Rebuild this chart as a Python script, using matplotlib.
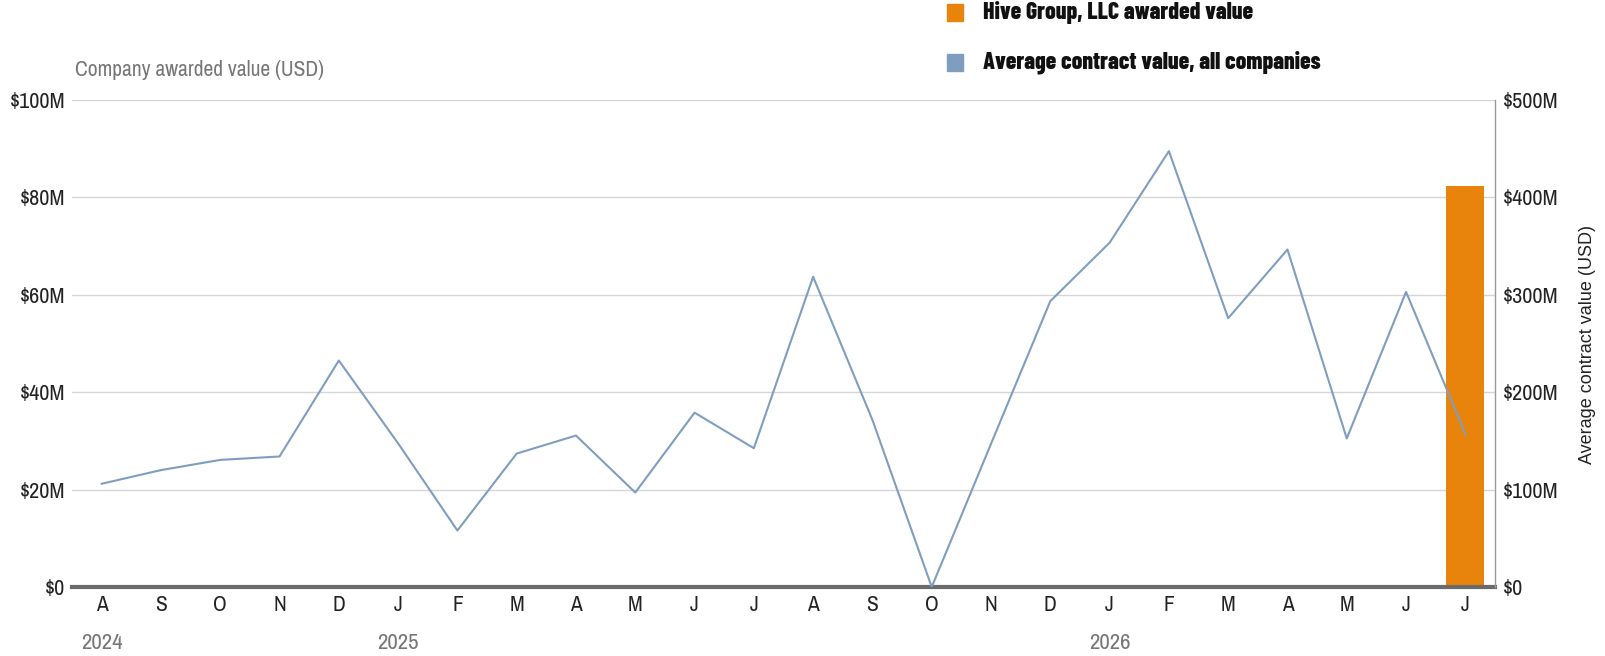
import matplotlib
matplotlib.use("Agg")
import matplotlib.pyplot as plt
from matplotlib.patches import Rectangle
from matplotlib.ticker import FuncFormatter
import numpy as np

# monthly data, Aug 2024 .. Jul 2026
months = ["A", "S", "O", "N", "D", "J", "F", "M", "A", "M", "J", "J",
          "A", "S", "O", "N", "D", "J", "F", "M", "A", "M", "J", "J"]
years = {0: "2024", 5: "2025", 17: "2026"}

# company awarded value, $M (left axis)
awarded = [0, 0, 0, 0, 0, 0, 0, 0, 0, 0, 0, 0,
           0, 0, 0, 0, 0, 0, 0, 0, 0, 0, 0, 82.3]
# average contract value for all companies, $M (right axis)
avg_value = [106, 120, 130.5, 134, 232.5, 147.5, 58, 137, 155.5, 97, 179, 142.5,
             318.5, 171.5, 0, 147, 293.5, 353.5, 447.5, 276, 346.5, 152.5, 303, 157]

orange = "#e8830c"
blue = "#7f9ebf"
narrow = ["Archivo Narrow", "DejaVu Sans"]
heavy = ["Barlow Condensed", "Archivo Narrow", "DejaVu Sans"]

W, H = 1605, 656
fig = plt.figure(figsize=(W / 100, H / 100), dpi=100)
ax = fig.add_axes([72 / W, 1 - 587 / H, (1495 - 72) / W, (587 - 100) / H])
ax2 = ax.twinx()

x = np.arange(len(months))
ax.bar(x, awarded, width=0.64, color=orange, zorder=2)
ax2.plot(x, avg_value, color=blue, lw=1.5, zorder=3)

ax.set_xlim(-0.5, len(months) - 0.5)
ax.set_ylim(0, 100)
ax2.set_ylim(0, 500)
ax.set_yticks(np.arange(0, 101, 20))
ax2.set_yticks(np.arange(0, 501, 100))
fmt = FuncFormatter(lambda v, p: "$0" if v == 0 else f"${v:.0f}M")
ax.yaxis.set_major_formatter(fmt)
ax2.yaxis.set_major_formatter(fmt)

ax.grid(axis="y", color="#d6d6d6", lw=1)
ax.set_axisbelow(True)

for a in (ax, ax2):
    for s in ("top", "left", "right", "bottom"):
        a.spines[s].set_visible(False)
ax2.spines["right"].set_visible(True)
ax2.spines["right"].set_color("#999999")
ax2.spines["right"].set_linewidth(1)
ax.spines["bottom"].set_visible(True)
ax.spines["bottom"].set_color("#6b6b6b")
ax.spines["bottom"].set_linewidth(3)
ax.spines["bottom"].set_zorder(5)

ax.set_xticks(x)
ax.set_xticklabels(months, family=narrow, fontsize=15.5, color="#222222")
ax.tick_params(axis="x", length=0, pad=6)
ax.tick_params(axis="y", length=0, pad=5, labelsize=16, labelcolor="#222222")
ax2.tick_params(axis="y", length=0, pad=6, labelsize=16, labelcolor="#222222")
for lab in ax.get_yticklabels() + ax2.get_yticklabels():
    lab.set_family(narrow)

for i, yr in years.items():
    ax.text(i, -0.115, yr, transform=ax.get_xaxis_transform(), ha="center", va="center",
            family=narrow, fontsize=16.5, color="#777777")

fig.text(75 / W, 1 - 70 / H, "Company awarded value (USD)", ha="left", va="center",
         family=narrow, fontsize=15.5, color="#777777")
fig.text(1588 / W, 1 - 345 / H, "Average contract value (USD)", rotation=90,
         ha="center", va="center", family="Liberation Sans", fontsize=13, color="#222222")

# legend
legend = [(orange, "Hive Group, LLC awarded value", 12.5),
          (blue, "Average contract value, all companies", 62.5)]
for col, label, yc in legend:
    fig.patches.append(Rectangle((947 / W, 1 - (yc + 8) / H), 16 / W, 16 / H,
                                 transform=fig.transFigure, color=col))
    fig.text(983 / W, 1 - yc / H, label, ha="left", va="center", family=heavy,
             fontsize=17, fontweight="heavy", color="#111111")

fig.savefig("out.png", dpi=100)
